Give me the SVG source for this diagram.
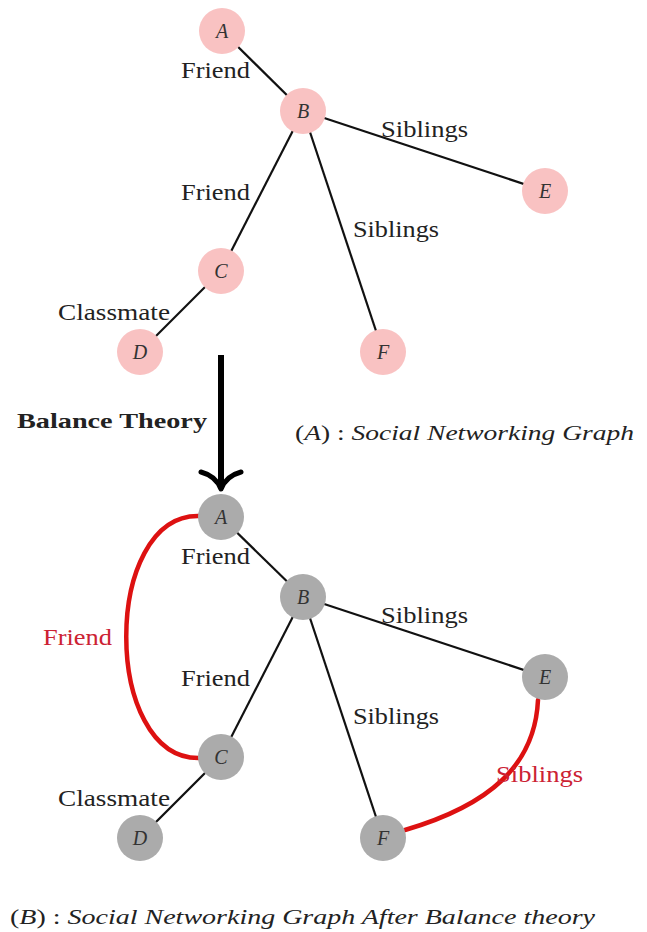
<svg xmlns="http://www.w3.org/2000/svg" width="647" height="932" viewBox="0 0 647 932">
<style>
.edge{stroke:#111;stroke-width:2.2;fill:none}
.red{stroke:#dd1111;stroke-width:4.5;fill:none;stroke-linecap:round}
.pink{fill:#f9c2c2}
.gray{fill:#ababab}
.nl{font-family:"Liberation Serif",serif;font-style:italic;font-size:20px;fill:#333;text-anchor:middle}
.lbl{font-family:"Liberation Serif",serif;font-size:23px;fill:#222}
.rlbl{font-family:"Liberation Serif",serif;font-size:23px;fill:#cc2233}
.cap{font-family:"Liberation Serif",serif;font-size:22px;fill:#222}
.it{font-style:italic}
</style>
<rect width="647" height="932" fill="#fff"/>
<g id="connectors">
  <line class="edge" x1="222" y1="31" x2="303" y2="111"/>
  <line class="edge" x1="303" y1="111" x2="545" y2="191"/>
  <line class="edge" x1="303" y1="111" x2="221" y2="271"/>
  <line class="edge" x1="303" y1="111" x2="383" y2="352"/>
  <line class="edge" x1="221" y1="271" x2="140" y2="352"/>
  <line class="edge" x1="221" y1="517" x2="303" y2="597"/>
  <line class="edge" x1="303" y1="597" x2="545" y2="677"/>
  <line class="edge" x1="303" y1="597" x2="221" y2="757"/>
  <line class="edge" x1="303" y1="597" x2="383" y2="838"/>
  <line class="edge" x1="221" y1="757" x2="140" y2="838"/>
  <path class="red" d="M 199 516 C 102 514, 102 759, 199 758"/>
  <path class="red" d="M 538 700 C 535 765, 490 805, 405 830"/>
  <line x1="221" y1="355" x2="221" y2="486" stroke="#000" stroke-width="6"/>
  <path d="M 201 472 Q 216 476 221 489 Q 226 476 241 472" stroke="#000" stroke-width="5" fill="none" stroke-linecap="round" stroke-linejoin="round"/>
</g>
<g id="edge-labels">
  <text class="lbl" x="181" y="78" textLength="69" lengthAdjust="spacingAndGlyphs">Friend</text>
  <text class="lbl" x="381" y="137" textLength="87" lengthAdjust="spacingAndGlyphs">Siblings</text>
  <text class="lbl" x="181" y="200" textLength="69" lengthAdjust="spacingAndGlyphs">Friend</text>
  <text class="lbl" x="353" y="237" textLength="86" lengthAdjust="spacingAndGlyphs">Siblings</text>
  <text class="lbl" x="58" y="320" textLength="112" lengthAdjust="spacingAndGlyphs">Classmate</text>
  <text class="lbl" x="181" y="564" textLength="69" lengthAdjust="spacingAndGlyphs">Friend</text>
  <text class="lbl" x="381" y="623" textLength="87" lengthAdjust="spacingAndGlyphs">Siblings</text>
  <text class="lbl" x="181" y="686" textLength="69" lengthAdjust="spacingAndGlyphs">Friend</text>
  <text class="lbl" x="353" y="724" textLength="86" lengthAdjust="spacingAndGlyphs">Siblings</text>
  <text class="lbl" x="58" y="806" textLength="112" lengthAdjust="spacingAndGlyphs">Classmate</text>
  <text class="rlbl" x="43" y="645" textLength="69" lengthAdjust="spacingAndGlyphs">Friend</text>
  <text class="rlbl" x="496" y="782" textLength="87" lengthAdjust="spacingAndGlyphs">Siblings</text>
</g>
<g id="A1"><circle class="pink" cx="222" cy="31" r="23"/><text class="nl" x="222" y="38">A</text></g>
<g id="B1"><circle class="pink" cx="303" cy="111" r="23"/><text class="nl" x="303" y="118">B</text></g>
<g id="E1"><circle class="pink" cx="545" cy="191" r="23"/><text class="nl" x="545" y="198">E</text></g>
<g id="C1"><circle class="pink" cx="221" cy="271" r="23"/><text class="nl" x="221" y="278">C</text></g>
<g id="D1"><circle class="pink" cx="140" cy="352" r="23"/><text class="nl" x="140" y="359">D</text></g>
<g id="F1"><circle class="pink" cx="383" cy="352" r="23"/><text class="nl" x="383" y="359">F</text></g>
<g id="A2"><circle class="gray" cx="221" cy="517" r="23"/><text class="nl" x="221" y="524">A</text></g>
<g id="B2"><circle class="gray" cx="303" cy="597" r="23"/><text class="nl" x="303" y="604">B</text></g>
<g id="E2"><circle class="gray" cx="545" cy="677" r="23"/><text class="nl" x="545" y="684">E</text></g>
<g id="C2"><circle class="gray" cx="221" cy="757" r="23"/><text class="nl" x="221" y="764">C</text></g>
<g id="D2"><circle class="gray" cx="140" cy="838" r="23"/><text class="nl" x="140" y="845">D</text></g>
<g id="F2"><circle class="gray" cx="383" cy="838" r="23"/><text class="nl" x="383" y="845">F</text></g>
<g id="captions">
  <text class="cap" x="17" y="428" font-weight="bold" textLength="190" lengthAdjust="spacingAndGlyphs">Balance Theory</text>
  <text class="cap" x="295" y="440" textLength="339" lengthAdjust="spacingAndGlyphs">(<tspan class="it">A</tspan>) : <tspan class="it">Social Networking Graph</tspan></text>
  <text class="cap" x="10" y="924" textLength="585" lengthAdjust="spacingAndGlyphs">(<tspan class="it">B</tspan>) : <tspan class="it">Social Networking Graph After Balance theory</tspan></text>
</g>
</svg>
